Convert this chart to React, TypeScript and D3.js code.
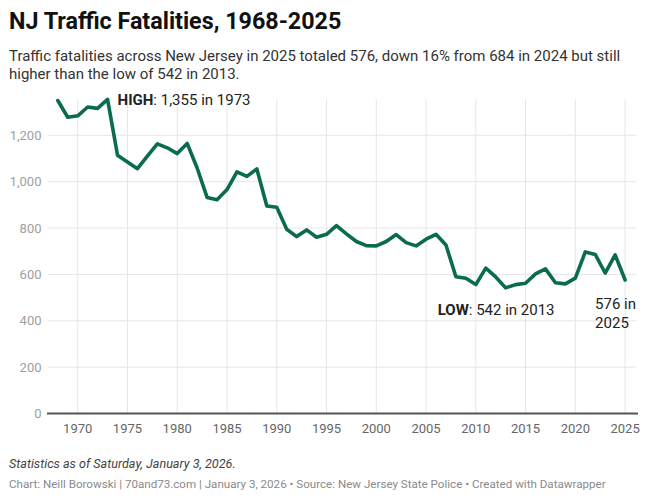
import React from 'react';
import * as d3 from 'd3';

const years = d3.range(1968, 2026);
const fatalities = [
  1350, 1278, 1284, 1322, 1316, 1355, 1114, 1085, 1056, 1110,
  1163, 1146, 1121, 1165, 1059, 932, 922, 966, 1042, 1023,
  1055, 895, 890, 795, 763, 792, 760, 773, 810, 775,
  742, 724, 723, 742, 772, 737, 723, 752, 773, 727,
  590, 583, 556, 627, 589, 542, 556, 562, 602, 624,
  564, 559, 584, 697, 686, 606, 684, 576,
];
const yTicks = [0, 200, 400, 600, 800, 1000, 1200];
const xTicks = [1970, 1975, 1980, 1985, 1990, 1995, 2000, 2005, 2010, 2015, 2020, 2025];

const FONT = 'Roboto, "Noto Sans", sans-serif';
const LINE_COLOR = '#0b6b4e';

const App: React.FC = () => {
  const width = 650;
  const height = 500;

  const x = d3.scaleLinear().domain([1968, 2025]).range([57.8, 625.1]);
  const y = d3.scaleLinear().domain([0, 1200]).range([413.5, 135.3]);

  const data = years.map((yr, i) => ({ year: yr, value: fatalities[i] }));
  const line = d3.line<{ year: number; value: number }>()
    .x(d => x(d.year))
    .y(d => y(d.value));

  const maxIdx = fatalities.indexOf(d3.max(fatalities)!);
  const minIdx = fatalities.indexOf(d3.min(fatalities)!);
  const last = data[data.length - 1];
  const plotTop = y(fatalities[maxIdx]);
  const fmt = d3.format(',');

  return (
    <svg width={width} height={height} style={{ position: 'absolute', left: 0, top: 0, background: '#fff' }}
      fontFamily={FONT}>
      <text x={9} y={29} fontSize={23.3} fontWeight={700} fill="#111">NJ Traffic Fatalities, 1968-2025</text>
      <text x={9} y={61} fontSize={15} fill="#333">
        Traffic fatalities across New Jersey in 2025 totaled 576, down 16% from 684 in 2024 but still
      </text>
      <text x={9} y={79} fontSize={15} fill="#333">higher than the low of 542 in 2013.</text>

      {/* vertical gridlines */}
      {xTicks.map(t => (
        <line key={'vx' + t} x1={x(t)} x2={x(t)} y1={plotTop} y2={y(0)} stroke="#e6e6e6" strokeWidth={1} />
      ))}
      {/* horizontal gridlines + labels */}
      {yTicks.map(t => (
        <g key={'hy' + t}>
          {t !== 0 && <line x1={48} x2={636} y1={y(t)} y2={y(t)} stroke="#e6e6e6" strokeWidth={1} />}
          <text x={41.5} y={y(t)} dy="0.35em" textAnchor="end" fontSize={13} fill="#a0a0a0">{fmt(t)}</text>
        </g>
      ))}
      <line x1={47} x2={638} y1={y(0)} y2={y(0)} stroke="#555" strokeWidth={2} />
      {xTicks.map(t => (
        <text key={'xl' + t} x={x(t)} y={428} dy="0.35em" textAnchor="middle" fontSize={13} fill="#666">{t}</text>
      ))}

      <path d={line(data) ?? ''} fill="none" stroke={LINE_COLOR} strokeWidth={3.6}
        strokeLinejoin="round" strokeLinecap="round" />

      {/* annotations */}
      <text x={x(years[maxIdx]) + 10} y={y(fatalities[maxIdx])} dy="0.35em" fontSize={15} fill="#222">
        <tspan fontWeight={700}>HIGH</tspan>: {fmt(fatalities[maxIdx])} in {years[maxIdx]}
      </text>
      <text x={x(years[minIdx]) - 68} y={y(fatalities[minIdx]) + 22} dy="0.35em" fontSize={15} fill="#222">
        <tspan fontWeight={700}>LOW</tspan>: {fmt(fatalities[minIdx])} in {years[minIdx]}
      </text>
      <text x={x(last.year) - 30} y={y(last.value) + 24} dy="0.35em" fontSize={15} fill="#222">
        <tspan x={x(last.year) - 30}>{last.value} in</tspan>
        <tspan x={x(last.year) - 30} dy={19}>{last.year}</tspan>
      </text>

      <text x={9} y={468} fontSize={12.6} fontStyle="italic" fill="#444">Statistics as of Saturday, January 3, 2026.</text>
      <text x={9} y={488} fontSize={11.6} fill="#8a8a8a">
        Chart: Neill Borowski | 70and73.com | January 3, 2026 • Source: New Jersey State Police • Created with Datawrapper
      </text>
    </svg>
  );
};

export default App;
